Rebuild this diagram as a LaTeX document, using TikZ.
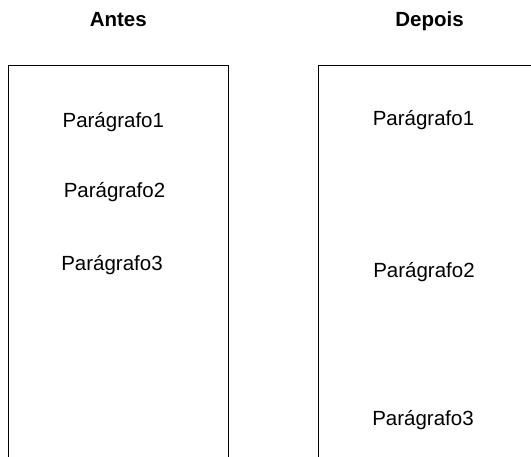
\documentclass[tikz,border=0pt]{standalone}
\usepackage{fontspec}
\setmainfont{Liberation Sans}
\begin{document}
\begin{tikzpicture}[x=1pt,y=-1pt,
  txt/.style={font=\fontsize{20.5}{24}\selectfont, inner sep=0pt, anchor=base},
  hdr/.style={txt, font=\fontsize{20.5}{24}\selectfont\bfseries},
  frame/.style={draw=black, line width=1pt}]
\useasboundingbox (0,0) rectangle (531,457);
\draw[frame] (8.5,460) -- (8.5,65.5) -- (228,65.5) -- (228,460);
\draw[frame] (318,460) -- (318,65.5) -- (535,65.5);
\node[hdr] (antes) at (118.3,26.5) {Antes};
\node[hdr] (depois) at (429.5,26.5) {Depois};
\node[txt] (l1) at (113.3,127.7) {Parágrafo1};
\node[txt] (l2) at (114.5,197.5) {Parágrafo2};
\node[txt] (l3) at (112,270.5) {Parágrafo3};
\node[txt] (r1) at (423.5,125.5) {Parágrafo1};
\node[txt] (r2) at (424,277.5) {Parágrafo2};
\node[txt] (r3) at (423,425.5) {Parágrafo3};
\end{tikzpicture}
\end{document}
